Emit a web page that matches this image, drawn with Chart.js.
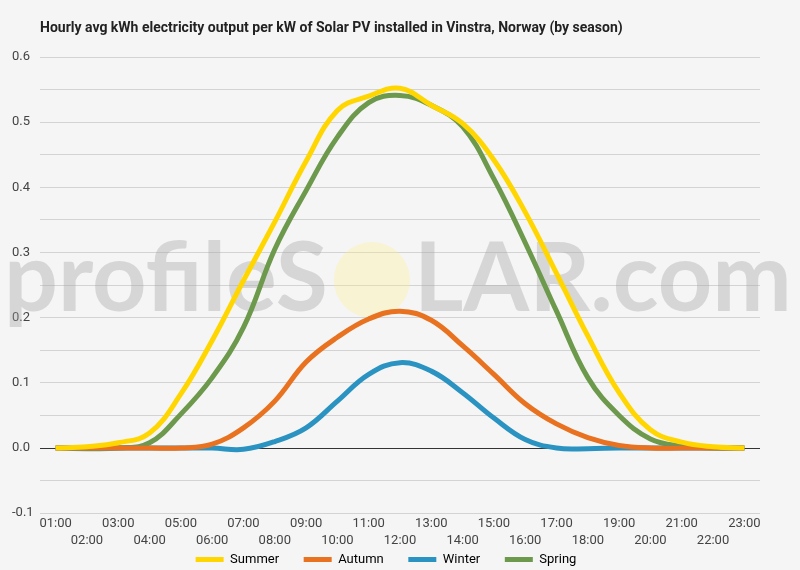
<!DOCTYPE html>
<html lang="en">
<head>
    <meta charset="UTF-8">
    <title>Vinstra Solar PV by season</title>
    <script src="https://cdn.jsdelivr.net/npm/chart.js"></script>
    <style>
        body { margin: 0; background: #f5f5f5; overflow: hidden; }
        .chart-box { width: 800px; height: 570px; }
    </style>
</head>
<body>
    <div class="chart-box">
        <canvas id="seasonChart"></canvas>
    </div>

    <script>
        const chartTitle = 'Hourly avg kWh electricity output per kW of Solar PV installed in Vinstra, Norway (by season)';

        // Hour labels on the x axis
        const hours = ['01:00', '02:00', '03:00', '04:00', '05:00', '06:00', '07:00', '08:00',
            '09:00', '10:00', '11:00', '12:00', '13:00', '14:00', '15:00', '16:00',
            '17:00', '18:00', '19:00', '20:00', '21:00', '22:00', '23:00'];

        // kWh per kW
        const summer = [0, 0.002, 0.008, 0.023, 0.083, 0.165, 0.257, 0.347, 0.44, 0.518, 0.54, 0.552,
            0.526, 0.498, 0.442, 0.362, 0.268, 0.172, 0.085, 0.028, 0.009, 0.002, 0];
        const autumn = [0, 0, 0, 0, 0, 0.006, 0.031, 0.072, 0.132, 0.17, 0.198, 0.21,
            0.196, 0.157, 0.113, 0.068, 0.037, 0.016, 0.004, 0, 0, 0, 0];
        const winter = [0, 0, 0, 0, 0, 0, -0.002, 0.01, 0.031, 0.072, 0.113, 0.131,
            0.118, 0.085, 0.046, 0.013, 0, -0.001, 0, 0, 0, 0, 0];
        const spring = [0, -0.001, 0, 0.008, 0.052, 0.108, 0.185, 0.305, 0.395, 0.477, 0.53, 0.541,
            0.526, 0.493, 0.413, 0.315, 0.21, 0.108, 0.05, 0.014, 0.003, 0, 0];

        // labelled ticks on the tenths, extra gridlines every 0.05
        const yTicks = [-0.1, 0, 0.1, 0.2, 0.3, 0.4, 0.5, 0.6];
        const yGridTicks = [-0.1, -0.05, 0, 0.05, 0.1, 0.15, 0.2, 0.25, 0.3, 0.35, 0.4, 0.45, 0.5, 0.55, 0.6];

        const isZero = v => Math.abs(v) < 1e-9;

        // title drawn by hand so it lines up with the plot edge
        const titlePlugin = {
            id: 'leftTitle',
            afterDraw(chart) {
                const ctx = chart.ctx;
                ctx.save();
                ctx.font = 'bold 14px Roboto, sans-serif';
                ctx.fillStyle = '#222';
                ctx.textAlign = 'left';
                ctx.textBaseline = 'middle';
                ctx.fillText(chartTitle, 40, 28);
                ctx.restore();
            }
        };

        // faint site watermark behind the lines
        const watermark = {
            id: 'watermark',
            beforeDatasetsDraw(chart) {
                const ctx = chart.ctx;
                ctx.save();
                ctx.textAlign = 'left';
                ctx.textBaseline = 'alphabetic';
                ctx.font = 'bold 100px Lato, sans-serif';
                const w = ctx.measureText('profileS').width + ctx.measureText('LAR.com').width;
                const size = 100 * 702 / w;
                ctx.font = 'bold ' + size + 'px Lato, sans-serif';
                ctx.fillStyle = 'rgba(160, 160, 160, 0.36)';
                const y = 311;
                let x = 4;
                ctx.fillText('profileS', x, y);
                x += ctx.measureText('profileS').width;
                ctx.fillStyle = 'rgba(255, 238, 130, 0.3)';
                ctx.beginPath();
                ctx.arc(x + 44, 280, 38, 0, Math.PI * 2);
                ctx.fill();
                ctx.fillStyle = 'rgba(160, 160, 160, 0.36)';
                ctx.fillText('LAR.com', x + 86, y);
                ctx.restore();
            }
        };

        document.addEventListener('DOMContentLoaded', () => {
            Chart.defaults.font.family = 'Roboto, sans-serif';
            Chart.defaults.color = '#444';

            const ctx = document.getElementById('seasonChart').getContext('2d');
            new Chart(ctx, {
                type: 'line',
                data: {
                    labels: hours,
                    datasets: [
                        { label: 'Summer', data: summer, borderColor: '#FFD600' },
                        { label: 'Autumn', data: autumn, borderColor: '#E8721F' },
                        { label: 'Winter', data: winter, borderColor: '#2A93C1' },
                        { label: 'Spring', data: spring, borderColor: '#6C994C' }
                    ]
                },
                options: {
                    responsive: true,
                    maintainAspectRatio: false,
                    animation: false,
                    layout: { padding: { left: 12, right: 40, top: 57, bottom: -6 } },
                    elements: {
                        line: { borderWidth: 5, tension: 0.4, fill: false },
                        point: { radius: 0, hoverRadius: 0 }
                    },
                    plugins: {
                        title: { display: false },
                        legend: {
                            position: 'bottom',
                            labels: {
                                boxWidth: 28,
                                boxHeight: 5,
                                padding: 2,
                                color: '#444',
                                font: { size: 13 },
                                // trailing spaces widen the gap between items
                                // without making the legend row taller
                                generateLabels(chart) {
                                    const n = chart.data.datasets.length;
                                    return chart.data.datasets.map((ds, i) => ({
                                        text: i < n - 1 ? ds.label + '       ' : ds.label,
                                        fillStyle: ds.borderColor,
                                        strokeStyle: ds.borderColor,
                                        lineWidth: 0,
                                        datasetIndex: i
                                    }));
                                }
                            }
                        },
                        tooltip: { enabled: false }
                    },
                    scales: {
                        x: {
                            offset: true,
                            grid: { display: false, drawTicks: false },
                            border: { display: false },
                            ticks: {
                                autoSkip: false,
                                maxRotation: 0,
                                padding: 2,
                                font: { size: 13, lineHeight: 1.3 },
                                color: '#444',
                                callback: function (value, index) {
                                    const lab = this.getLabelForValue(value);
                                    return index % 2 === 0 ? [lab, ''] : ['', lab];
                                }
                            }
                        },
                        // gridline-only axis for the 0.05 lines
                        yGrid: {
                            position: 'left',
                            min: -0.1,
                            max: 0.6,
                            afterBuildTicks(axis) {
                                axis.ticks = yGridTicks.map(v => ({ value: v }));
                            },
                            border: { display: false },
                            grid: {
                                drawTicks: false,
                                color: ctx => ctx.tick && isZero(ctx.tick.value) ? 'rgba(0,0,0,0)' : '#d3d3d3'
                            },
                            ticks: { display: false }
                        },
                        y: {
                            min: -0.1,
                            max: 0.6,
                            afterBuildTicks(axis) {
                                axis.ticks = yTicks.map(v => ({ value: v }));
                            },
                            afterFit(axis) {
                                axis.width = 28;
                            },
                            border: { display: false },
                            grid: {
                                drawTicks: false,
                                color: ctx => ctx.tick && isZero(ctx.tick.value) ? '#333' : 'rgba(0,0,0,0)',
                                lineWidth: 1
                            },
                            ticks: {
                                autoSkip: false,
                                crossAlign: 'far',
                                padding: 6,
                                font: { size: 13 },
                                color: '#444',
                                callback: v => v.toFixed(1)
                            }
                        }
                    }
                },
                plugins: [watermark, titlePlugin]
            });
        });
    </script>
</body>
</html>
